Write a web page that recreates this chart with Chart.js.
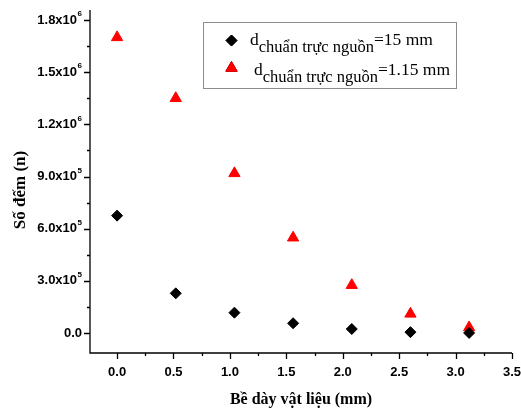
<!DOCTYPE html>
<html>
<head>
<meta charset="utf-8">
<script src="https://cdn.jsdelivr.net/npm/chart.js@4.4.0/dist/chart.umd.min.js"></script>
<style>
html,body{margin:0;padding:0;background:#fff;}
#wrap{width:521px;height:409px;position:relative;}
</style>
</head>
<body>
<div id="wrap"><canvas id="c" width="521" height="409"></canvas></div>
<script>
const thickness = [0, 0.52, 1.04, 1.56, 2.08, 2.6, 3.12];
const counts15 = [675000, 228000, 117000, 56000, 23000, 5000, 500];
const counts115 = [1700000, 1350000, 918000, 548000, 275000, 110000, 32000];
const xTicks = [0, 0.5, 1, 1.5, 2, 2.5, 3, 3.5];
const xTickLabels = ['0.0','0.5','1.0','1.5','2.0','2.5','3.0','3.5'];
const yTicks = [0, 300000, 600000, 900000, 1200000, 1500000, 1800000];
const yTickMant = ['0.0','3.0x10','6.0x10','9.0x10','1.2x10','1.5x10','1.8x10'];
const yTickExp = ['','5','5','5','6','6','6'];
const seriesNames = ['=15 mm', '=1.15 mm'];
const subLabel = 'chuẩn trực nguồn';
const xTitle = 'Bề dày vật liệu (mm)';
const yTitle = 'Số đếm (n)';

const toPts = (xs, ys) => xs.map((x, i) => ({x: x, y: ys[i]}));

const drawPlugin = {
  id: 'drawPlugin',
  afterDraw(chart) {
    const ctx = chart.ctx;
    const xs = chart.scales.x, ys = chart.scales.y;
    const area = chart.chartArea;
    ctx.save();
    ctx.strokeStyle = '#000';
    ctx.lineWidth = 1.3;
    // axes
    ctx.beginPath();
    ctx.moveTo(area.left, area.top);
    ctx.lineTo(area.left, area.bottom);
    ctx.lineTo(area.right, area.bottom);
    ctx.stroke();
    // y ticks
    ctx.beginPath();
    yTicks.forEach(v => {
      const p = Math.round(ys.getPixelForValue(v)) + 0.5;
      ctx.moveTo(area.left - 6, p); ctx.lineTo(area.left, p);
    });
    for (let i = 0; i < yTicks.length; i++) {
      const v = yTicks[i] + 150000;
      if (v <= ys.max) {
        const p = Math.round(ys.getPixelForValue(v)) + 0.5;
        ctx.moveTo(area.left - 3, p); ctx.lineTo(area.left, p);
      }
    }
    // x ticks
    xTicks.forEach(v => {
      const p = Math.round(xs.getPixelForValue(v)) + 0.5;
      ctx.moveTo(p, area.bottom); ctx.lineTo(p, area.bottom + 6);
    });
    for (let i = 0; i < xTicks.length - 1; i++) {
      const p = Math.round(xs.getPixelForValue(xTicks[i] + 0.25)) + 0.5;
      ctx.moveTo(p, area.bottom); ctx.lineTo(p, area.bottom + 3);
    }
    ctx.stroke();

    // y tick labels
    ctx.fillStyle = '#000';
    ctx.textBaseline = 'middle';
    yTicks.forEach((v, i) => {
      const p = ys.getPixelForValue(v);
      const right = area.left - 8;
      ctx.font = 'bold 8px "Liberation Sans", Arial, sans-serif';
      const ew = yTickExp[i] ? ctx.measureText(yTickExp[i]).width : 0;
      ctx.textAlign = 'right';
      if (yTickExp[i]) ctx.fillText(yTickExp[i], right, p - 6);
      ctx.font = 'bold 13px "Liberation Sans", Arial, sans-serif';
      ctx.fillText(yTickMant[i], right - ew - (ew ? 0.5 : 0), p);
    });
    // x tick labels
    ctx.font = 'bold 13px "Liberation Sans", Arial, sans-serif';
    ctx.textAlign = 'center';
    ctx.textBaseline = 'middle';
    xTicks.forEach((v, i) => {
      ctx.fillText(xTickLabels[i], xs.getPixelForValue(v), area.bottom + 19);
    });
    // titles
    ctx.font = 'bold 16px "Liberation Serif", "Times New Roman", serif';
    ctx.fillText(xTitle, (area.left + area.right) / 2, 400);
    ctx.save();
    ctx.translate(21, 190);
    ctx.rotate(-Math.PI / 2);
    ctx.font = 'bold 17px "Liberation Serif", "Times New Roman", serif';
    ctx.fillText(yTitle, 0, 0);
    ctx.restore();

    // legend
    ctx.strokeStyle = '#8c8c8c';
    ctx.lineWidth = 1;
    ctx.strokeRect(203.5, 22.5, 253, 66);
    const ds = chart.data.datasets;
    const rows = [{my: 40.5, tx: 250, base: 45, sub: 52}, {my: 68, tx: 254, base: 75, sub: 82}];
    rows.forEach((r, i) => {
      const d = ds[i];
      Chart.helpers.drawPoint(ctx, {pointStyle: d.pointStyle, radius: d.pointRadius, rotation: 0, borderWidth: 1}, 231.5, r.my);
      ctx.fillStyle = d.backgroundColor;
      ctx.strokeStyle = d.borderColor;
      ctx.fill(); ctx.stroke();
      ctx.fillStyle = '#000';
      ctx.textAlign = 'left';
      ctx.textBaseline = 'alphabetic';
      ctx.font = '17.5px "Liberation Serif", "Times New Roman", serif';
      ctx.fillText('d', r.tx, r.base);
      let x = r.tx + ctx.measureText('d').width;
      ctx.font = '16.5px "Liberation Serif", "Times New Roman", serif';
      ctx.fillText(subLabel, x, r.sub);
      x += ctx.measureText(subLabel).width;
      ctx.font = '17.5px "Liberation Serif", "Times New Roman", serif';
      ctx.fillText(seriesNames[i], x, r.base);
    });
    ctx.restore();
  }
};

new Chart(document.getElementById('c'), {
  type: 'scatter',
  data: {
    datasets: [
      {label: 'a', data: toPts(thickness, counts15), pointStyle: 'rectRot', pointRadius: 5.5, pointHoverRadius: 5.5,
       backgroundColor: '#000', borderColor: '#000', borderWidth: 1},
      {label: 'b', data: toPts(thickness, counts115), pointStyle: 'triangle', pointRadius: 6.5, pointHoverRadius: 6.5,
       backgroundColor: '#ff0000', borderColor: '#ff0000', borderWidth: 1}
    ]
  },
  options: {
    responsive: false,
    animation: false,
    events: [],
    layout: {padding: {top: 10, right: 9, left: 0, bottom: 0}},
    plugins: {legend: {display: false}, tooltip: {enabled: false}},
    scales: {
      x: {type: 'linear', min: -0.24, max: 3.5,
          grid: {display: false, drawTicks: false}, border: {display: false},
          ticks: {display: false},
          afterFit(s) { s.height = 56; }},
      y: {type: 'linear', min: -115000, max: 1857500,
          grid: {display: false, drawTicks: false}, border: {display: false},
          ticks: {display: false},
          afterFit(s) { s.width = 90; }}
    }
  },
  plugins: [drawPlugin]
});
</script>
</body>
</html>
